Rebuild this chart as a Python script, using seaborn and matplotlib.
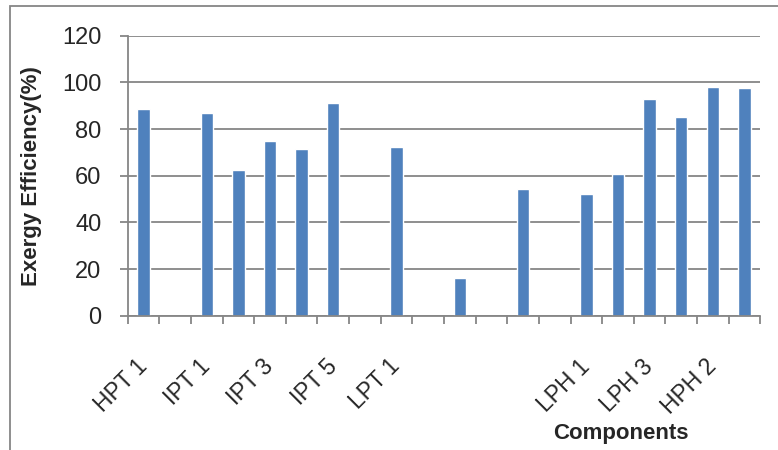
import numpy as np
import pandas as pd
import seaborn as sns
import matplotlib.pyplot as plt
from matplotlib.patches import Rectangle

# data (empty slots have no bar)
slots = list(range(20))
efficiency = [88.6, np.nan, 86.7, 62.3, 74.7, 71.3, 91.0, np.nan, 72.2, np.nan,
              16.2, np.nan, 54.3, np.nan, 52.1, 60.7, 92.7, 85.3, 98.2, 97.6]
tick_labels = ["HPT 1", "", "IPT 1", "", "IPT 3", "", "IPT 5", "", "LPT 1", "",
               "", "", "", "", "LPH 1", "", "LPH 3", "", "HPH 2", ""]
y_ticks = [0, 20, 40, 60, 80, 100, 120]

df = pd.DataFrame({"slot": slots, "eff": efficiency})

sns.set_style("white")
plt.rcParams['font.family'] = ['Liberation Sans', 'DejaVu Sans']

grey = "#868686"
fig = plt.figure(figsize=(7.78, 4.5), dpi=100)
ax = fig.add_axes([0.1641, 0.2984, 0.8132, 0.6223])

sns.barplot(data=df, x="slot", y="eff", order=slots, color="#4F81BD",
            width=0.39, errorbar=None, saturation=1, ax=ax)

ax.set_ylim(0, 120)
ax.set_xlim(-0.5, 19.5)
ax.set_yticks(y_ticks)
ax.yaxis.grid(True, color=grey, linewidth=1.3)
ax.set_axisbelow(True)
for s in ["top", "right"]:
    ax.spines[s].set_visible(False)
for s in ["left", "bottom"]:
    ax.spines[s].set_color(grey)
    ax.spines[s].set_linewidth(1.3)

ax.tick_params(axis="y", length=6, color=grey, width=1.3, pad=13, labelsize=17, left=True)
ax.set_xticks(slots)
ax.set_xticklabels(tick_labels, rotation=45, ha="right", va="center",
                   rotation_mode="anchor", fontsize=16.5)
ax.tick_params(axis="x", which="major", length=0, pad=34)
ax.set_xticks(np.arange(-0.5, 20, 1), minor=True)
ax.tick_params(axis="x", which="minor", length=6, color=grey, width=1.3, bottom=True)
ax.set_xlabel("")
ax.set_ylabel("")

fig.text(32 / 778, 1 - 176 / 450, "Exergy Efficiency(%)", rotation=90,
         ha="center", va="center", fontsize=16, fontweight="bold")
fig.text(621 / 778, 1 - 433 / 450, "Components",
         ha="center", va="center", fontsize=16, fontweight="bold")

# chart-area border, cut off at the right and bottom
fig.patches.append(Rectangle((10 / 778, -0.2), 1.2, 1.2 - 6 / 450,
                             transform=fig.transFigure, fill=False,
                             edgecolor=grey, linewidth=1.3))

fig.savefig("out.png", dpi=100)
